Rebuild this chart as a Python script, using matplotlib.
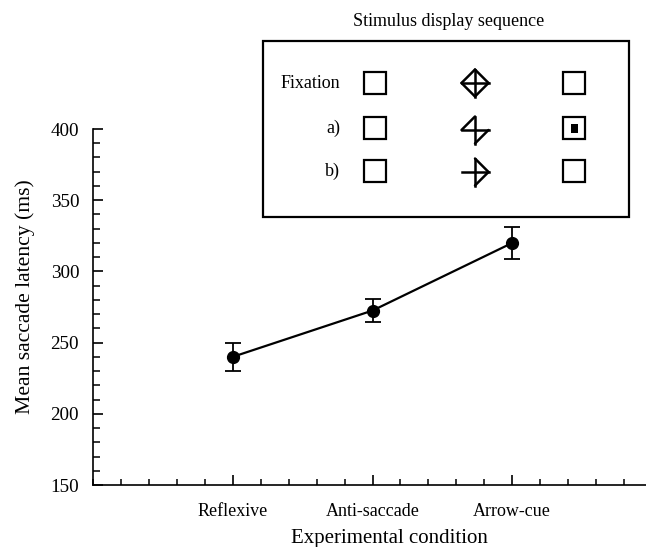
import matplotlib
matplotlib.use("Agg")
import matplotlib.pyplot as plt
from matplotlib.patches import Rectangle
from matplotlib.ticker import MultipleLocator

plt.rcParams['font.family'] = ['Liberation Serif', 'DejaVu Serif']

conditions = ["Reflexive", "Anti-saccade", "Arrow-cue"]
positions = [1, 2, 3]
latency = [240, 272.5, 320]
err = [10, 8, 11]
yticks = [150, 200, 250, 300, 350, 400]

fig = plt.figure(figsize=(6.46, 5.47), dpi=100)
W, H = 646, 547
ax = fig.add_axes([93 / W, 62 / H, 559 / W, 356 / H])

ax.errorbar(positions, latency, yerr=err, color='black', lw=1.6, marker='o',
            markersize=8.5, capsize=5.5, elinewidth=1.3, capthick=1.3)

ax.set_xlim(0, 4)
ax.set_ylim(150, 400)
ax.set_xticks(positions)
ax.set_xticklabels(conditions)
ax.xaxis.set_minor_locator(MultipleLocator(0.2))
ax.set_yticks(yticks)
ax.yaxis.set_minor_locator(MultipleLocator(10))
for s in ['top', 'right']:
    ax.spines[s].set_visible(False)
for s in ['left', 'bottom']:
    ax.spines[s].set_linewidth(1.2)
ax.tick_params(axis='both', which='major', direction='in', length=7.5, width=1.2)
ax.tick_params(axis='y', which='minor', direction='in', length=5, width=1.1)
ax.tick_params(axis='x', which='minor', direction='in', length=4, width=1.1)
ax.tick_params(axis='y', which='major', pad=10, labelsize=13.8)
ax.tick_params(axis='x', which='major', pad=13, labelsize=13)

ax.set_ylabel("Mean saccade latency (ms)", fontsize=15.6)
ax.yaxis.set_label_coords((25 - 93) / 559, (485 - 296.5) / 356)
ax.yaxis.label.set_verticalalignment('center')
ax.set_xlabel("Experimental condition", fontsize=15)
ax.xaxis.set_label_coords((389 - 93) / 559, -(538 - 485) / 356)
ax.xaxis.label.set_verticalalignment('center')

# inset schematic in pixel coordinates
ov = fig.add_axes([0, 0, 1, 1], facecolor='none')
ov.set_xlim(0, W)
ov.set_ylim(H, 0)
ov.axis('off')

ov.add_patch(Rectangle((263, 41), 366, 176, fill=False, lw=1.6, ec='black'))
ov.text(449, 21, "Stimulus display sequence", ha='center', va='center', fontsize=13)

row_labels = ["Fixation", "a)", "b)"]
row_y = [83, 128, 171]
for lab, y in zip(row_labels, row_y):
    ov.text(340, y, lab, ha='right', va='center', fontsize=13)

sq = 22
for y in row_y:
    for cx in (375, 574):
        ov.add_patch(Rectangle((cx - sq / 2, y - sq / 2), sq, sq, fill=False, lw=1.6, ec='black'))
ov.add_patch(Rectangle((574 - 3.5, 128 - 4.5), 7, 9, fc='black', ec='none'))

def cue(cx, cy, edges, r=13.5, lw=1.8):
    top, left, bottom, right = (cx, cy - r), (cx - r, cy), (cx, cy + r), (cx + r, cy)
    ov.plot([cx, cx], [cy - r, cy + r], color='black', lw=lw)
    ov.plot([cx - r, cx + r], [cy, cy], color='black', lw=lw)
    pts = {'tl': (top, left), 'bl': (left, bottom), 'br': (bottom, right), 'tr': (right, top)}
    for e in edges:
        a, b = pts[e]
        ov.plot([a[0], b[0]], [a[1], b[1]], color='black', lw=lw, solid_capstyle='round')

cue(475, 83, ['tl', 'bl', 'br', 'tr'])
cue(475, 130, ['tl', 'br'])
cue(475, 172, ['tr', 'br'])

fig.savefig("out.png", dpi=100)
